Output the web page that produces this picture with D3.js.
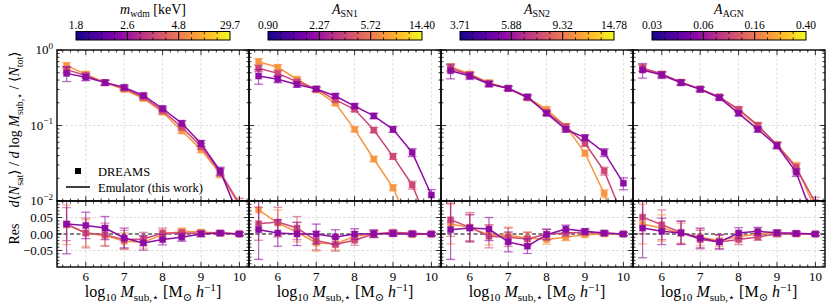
<!DOCTYPE html>
<html>
<head>
<meta charset="utf-8">
<script src="https://cdn.jsdelivr.net/npm/d3@7"></script>
<style>
  body { margin: 0; background: #fff; }
  text { font-family: "Liberation Serif", "DejaVu Serif", serif; fill: #000; }
</style>
</head>
<body>
<div id="chart"></div>
<script>
// stellar mass bins (log10 M_sub)
const massBins = [5.5, 6, 6.5, 7, 7.5, 8, 8.5, 9, 9.5, 10];

// DREAMS mass functions per panel, series order: [purple, pink, orange]
const wdmCurves = [
  [0.49, 0.435, 0.37, 0.32, 0.25, 0.168, 0.107, 0.058, 0.025, 0.006],
  [0.55, 0.46, 0.37, 0.31, 0.237, 0.157, 0.095, 0.053, 0.024, 0.0092],
  [0.62, 0.48, 0.37, 0.30, 0.228, 0.15, 0.085, 0.048, 0.023, 0.0087]
];
const sn1Curves = [
  [0.452, 0.41, 0.35, 0.305, 0.246, 0.181, 0.134, 0.089, 0.044, 0.012],
  [0.572, 0.49, 0.38, 0.305, 0.218, 0.164, 0.087, 0.039, 0.0163, 0.004],
  [0.70, 0.59, 0.41, 0.295, 0.197, 0.089, 0.036, 0.015, 0.004, 0.001]
];
const sn2Curves = [
  [0.532, 0.452, 0.354, 0.311, 0.24, 0.145, 0.089, 0.069, 0.044, 0.0172],
  [0.57, 0.47, 0.36, 0.31, 0.232, 0.15, 0.096, 0.058, 0.025, 0.006],
  [0.60, 0.48, 0.37, 0.31, 0.235, 0.164, 0.098, 0.043, 0.0126, 0.002]
];
const agnCurves = [
  [0.543, 0.466, 0.369, 0.301, 0.233, 0.145, 0.089, 0.054, 0.024, 0.005],
  [0.58, 0.48, 0.375, 0.305, 0.24, 0.164, 0.101, 0.055, 0.0276, 0.0095],
  [0.57, 0.475, 0.37, 0.303, 0.238, 0.16, 0.098, 0.056, 0.029, 0.0077]
];

// residuals (DREAMS vs emulator)
const wdmRes = [
  [0.030, 0.026, 0.018, -0.012, -0.027, -0.017, -0.010, 0.000, 0.003, 0.000],
  [0.030, 0.003, -0.002, -0.017, -0.015, 0.003, 0.003, 0.002, 0.002, 0.000],
  [0.028, 0.003, -0.005, -0.022, -0.025, -0.002, 0.008, 0.006, 0.003, 0.001]
];
const sn1Res = [
  [0.013, 0.003, 0.000, 0.000, -0.009, 0.000, 0.001, 0.001, 0.000, 0.000],
  [0.031, 0.036, 0.018, -0.020, -0.032, -0.019, 0.000, 0.005, 0.002, 0.000],
  [0.073, 0.033, 0.006, -0.027, -0.030, -0.007, 0.000, 0.002, -0.002, 0.000]
];
const sn2Res = [
  [0.013, 0.018, 0.015, -0.024, -0.037, -0.002, 0.015, 0.008, 0.003, 0.000],
  [0.043, 0.020, -0.007, -0.010, -0.015, 0.000, 0.003, 0.005, 0.002, 0.000],
  [0.030, 0.020, -0.003, -0.004, -0.012, -0.017, -0.010, -0.002, 0.000, 0.000]
];
const agnRes = [
  [0.018, 0.008, 0.003, -0.012, -0.024, 0.003, 0.008, 0.004, 0.002, 0.000],
  [0.051, 0.028, 0.005, -0.017, -0.024, -0.017, -0.009, 0.000, 0.000, 0.000],
  [0.030, 0.018, 0.002, -0.010, -0.020, -0.008, 0.000, 0.002, 0.001, 0.000]
];

// relative errors on the mass function, and absolute errors on residuals
const topRelErr = [
  [0.22, 0.1, 0.08, 0.07, 0.07, 0.07, 0.08, 0.09, 0.12, 0.18],
  [0.1, 0.08, 0.07, 0.06, 0.06, 0.07, 0.08, 0.09, 0.12, 0.18],
  [0.1, 0.08, 0.07, 0.06, 0.06, 0.07, 0.08, 0.09, 0.12, 0.18]
];
const resErr = [
  [0.09, 0.04, 0.035, 0.03, 0.022, 0.016, 0.012, 0.008, 0.006, 0.005],
  [0.05, 0.045, 0.035, 0.028, 0.02, 0.015, 0.01, 0.008, 0.006, 0.005],
  [0.06, 0.04, 0.03, 0.025, 0.018, 0.014, 0.01, 0.007, 0.005, 0.004]
];

const cbarLabels = [
  ['1.8', '2.6', '4.8', '29.7'],
  ['0.90', '2.27', '5.72', '14.40'],
  ['3.71', '5.88', '9.32', '14.78'],
  ['0.03', '0.06', '0.16', '0.40']
];
const cbarTitles = [
  [{ t: 'm', i: 1 }, { t: 'wdm', sub: 1 }, { t: ' [keV]' }],
  [{ t: 'A', i: 1 }, { t: 'SN1', sub: 1 }],
  [{ t: 'A', i: 1 }, { t: 'SN2', sub: 1 }],
  [{ t: 'A', i: 1 }, { t: 'AGN', sub: 1 }]
];

const panels = [
  { curves: wdmCurves, res: wdmRes },
  { curves: sn1Curves, res: sn1Res },
  { curves: sn2Curves, res: sn2Res },
  { curves: agnCurves, res: agnRes }
];

const colors = ['#8e0ca4', '#cc4778', '#f89540'];
const drawOrder = [2, 1, 0];

const W = 830, H = 307;
const marginLeft = 57, marginTop = 50;
const panelW = 192, topH = 151, resH = 66;

const svg = d3.select('#chart').append('svg').attr('width', W).attr('height', H);
const defs = svg.append('defs');
defs.append('clipPath').attr('id', 'clipTop').append('rect').attr('width', panelW).attr('height', topH);
defs.append('clipPath').attr('id', 'clipRes').append('rect').attr('width', panelW).attr('height', resH);
const grad = defs.append('linearGradient').attr('id', 'plasma');
d3.range(0, 1.001, 0.05).forEach(t => {
  grad.append('stop').attr('offset', t).attr('stop-color', d3.interpolatePlasma(t));
});

const x = d3.scaleLinear().domain([5.25, 10.25]).range([0, panelW]);
const yTop = d3.scaleLog().domain([0.01, 1]).range([topH, 0]);
const yRes = d3.scaleLinear().domain([-0.1, 0.1]).range([resH, 0]);

const xMajor = [6, 7, 8, 9, 10];
const xMinor = d3.range(5.4, 10.25, 0.2).filter(v => Math.abs(v - Math.round(v)) > 0.05);
const yTopMajor = [0.01, 0.1, 1];
const yTopMinor = [0.01, 0.1].flatMap(d => d3.range(2, 10).map(k => k * d));
const yResMajor = [-0.05, 0, 0.05];
const yResMinor = d3.range(-0.09, 0.095, 0.01).filter(v => Math.abs(v / 0.05 - Math.round(v / 0.05)) > 0.05);

function rich(sel, parts, fs, subShift = 0.28) {
  let shift = 0;
  parts.forEach(p => {
    const target = p.sub ? subShift * fs : p.sup ? -0.4 * fs : 0;
    const ts = sel.append('tspan').text(p.t).attr('dy', target - shift);
    shift = target;
    if (p.sub || p.sup) ts.attr('font-size', fs * 0.7);
    if (p.i) ts.attr('font-style', 'italic');
  });
}

function ticks(g, h, yScale, yMaj, yMin) {
  const t = g.append('g').attr('stroke', '#000').attr('stroke-width', 0.8);
  const addX = (vals, len) => {
    vals.forEach(v => {
      t.append('line').attr('x1', x(v)).attr('x2', x(v)).attr('y1', h).attr('y2', h - len);
      t.append('line').attr('x1', x(v)).attr('x2', x(v)).attr('y1', 0).attr('y2', len);
    });
  };
  const addY = (vals, len) => {
    vals.forEach(v => {
      t.append('line').attr('x1', 0).attr('x2', len).attr('y1', yScale(v)).attr('y2', yScale(v));
      t.append('line').attr('x1', panelW).attr('x2', panelW - len).attr('y1', yScale(v)).attr('y2', yScale(v));
    });
  };
  addX(xMajor, 5); addX(xMinor, 2.5);
  addY(yMaj, 5); addY(yMin, 2.5);
  g.append('rect').attr('width', panelW).attr('height', h)
    .attr('fill', 'none').attr('stroke', '#000').attr('stroke-width', 1.4);
}

function grid(g, h, yScale, yVals) {
  const gg = g.append('g').attr('stroke', '#cfcfcf').attr('stroke-width', 0.7).attr('stroke-dasharray', '2.5,2');
  xMajor.forEach(v => gg.append('line').attr('x1', x(v)).attr('x2', x(v)).attr('y1', 0).attr('y2', h));
  yVals.forEach(v => gg.append('line').attr('x1', 0).attr('x2', panelW).attr('y1', yScale(v)).attr('y2', yScale(v)));
}

function series(g, pts, yScale, color) {
  g.append('path').datum(pts)
    .attr('d', d3.line().x(d => x(d.m)).y(d => yScale(d.v)))
    .attr('fill', 'none').attr('stroke', color).attr('stroke-width', 1.5);
  const eb = g.append('g').attr('stroke', color).attr('stroke-opacity', 0.6).attr('stroke-width', 1.3);
  pts.forEach(d => {
    const y1 = yScale(d.v - d.e), y2 = yScale(d.v + d.e);
    eb.append('line').attr('x1', x(d.m)).attr('x2', x(d.m)).attr('y1', y1).attr('y2', y2);
    eb.append('line').attr('x1', x(d.m) - 4.5).attr('x2', x(d.m) + 4.5).attr('y1', y1).attr('y2', y1);
    eb.append('line').attr('x1', x(d.m) - 4.5).attr('x2', x(d.m) + 4.5).attr('y1', y2).attr('y2', y2);
  });
  g.append('g').selectAll('rect').data(pts).join('rect')
    .attr('x', d => x(d.m) - 3).attr('y', d => yScale(d.v) - 3)
    .attr('width', 6).attr('height', 6).attr('fill', color)
    .attr('stroke', color).attr('stroke-opacity', 0.4).attr('stroke-width', 1.2);
}

panels.forEach((p, i) => {
  const px = marginLeft + i * panelW;
  const g = svg.append('g').attr('transform', `translate(${px},${marginTop})`);
  const gr = svg.append('g').attr('transform', `translate(${px},${marginTop + topH})`);

  grid(g, topH, yTop, [0.1]);
  grid(gr, resH, yRes, [-0.05, 0.05]);

  gr.append('line').attr('x1', 0).attr('x2', panelW).attr('y1', yRes(0)).attr('y2', yRes(0))
    .attr('stroke', '#000').attr('stroke-width', 1.2).attr('stroke-dasharray', '4,2.5');

  const plotTop = g.append('g').attr('clip-path', 'url(#clipTop)');
  const plotRes = gr.append('g').attr('clip-path', 'url(#clipRes)');
  drawOrder.forEach(k => {
    const pts = massBins.map((m, j) => ({ m, v: p.curves[k][j], e: p.curves[k][j] * topRelErr[k][j] }));
    series(plotTop.append('g'), pts, yTop, colors[k]);
    const rpts = massBins.map((m, j) => ({ m, v: p.res[k][j], e: resErr[k][j] }));
    series(plotRes.append('g'), rpts, yRes, colors[k]);
  });

  ticks(g, topH, yTop, yTopMajor, yTopMinor);
  ticks(gr, resH, yRes, yResMajor, yResMinor);

  // x tick labels
  gr.append('g').selectAll('text').data(xMajor).join('text')
    .attr('x', d => x(d)).attr('y', resH + 14).attr('text-anchor', 'middle')
    .attr('font-size', 13).text(d => d);

  // x axis title
  const xl = svg.append('text').attr('x', px + panelW / 2).attr('y', 297)
    .attr('text-anchor', 'middle').attr('font-size', 16);
  rich(xl, [{ t: 'log' }, { t: '10', sub: 1 }, { t: ' ' }, { t: 'M', i: 1 }, { t: 'sub,⋆', sub: 1 },
    { t: ' [M' }, { t: '⊙', sub: 1 }, { t: ' ' }, { t: 'h', i: 1 }, { t: '−1', sup: 1 }, { t: ']' }], 16);

  // colour bar
  const cbW = 154, cbH = 8.5;
  const cb = svg.append('g').attr('transform', `translate(${px + panelW / 2 - cbW / 2},31.5)`);
  cb.append('rect').attr('width', cbW).attr('height', cbH).attr('fill', 'url(#plasma)');
  const cbt = cb.append('g').attr('stroke', '#000').attr('stroke-width', 0.8);
  d3.range(1, 12).forEach(k => {
    const xx = cbW * k / 12;
    if (k % 4 === 0) {
      cbt.append('line').attr('x1', xx).attr('x2', xx).attr('y1', 0).attr('y2', cbH).attr('stroke-width', 1);
    } else {
      cbt.append('line').attr('x1', xx).attr('x2', xx).attr('y1', cbH).attr('y2', cbH - 2.5);
      cbt.append('line').attr('x1', xx).attr('x2', xx).attr('y1', 0).attr('y2', 2.5);
    }
  });
  cb.append('rect').attr('width', cbW).attr('height', cbH).attr('fill', 'none')
    .attr('stroke', '#000').attr('stroke-width', 1);
  cb.selectAll('text.lab').data(cbarLabels[i]).join('text').attr('class', 'lab')
    .attr('x', (d, k) => cbW * k / 3).attr('y', -3).attr('text-anchor', 'middle')
    .attr('font-size', 11.5).text(d => d);
  const ct = svg.append('text').attr('x', px + panelW / 2).attr('y', 14)
    .attr('text-anchor', 'middle').attr('font-size', 14);
  rich(ct, cbarTitles[i], 14, 0.18);
});

// y tick labels on the first panel
const yl = svg.append('g').attr('font-size', 13);
yTopMajor.forEach(v => {
  const t = yl.append('text').attr('x', marginLeft - 4).attr('y', marginTop + yTop(v) + 4).attr('text-anchor', 'end');
  rich(t, [{ t: '10' }, { t: String(Math.round(Math.log10(v))).replace('-', '−'), sup: 1 }], 13);
});
yResMajor.forEach(v => {
  yl.append('text').attr('x', marginLeft - 4).attr('y', marginTop + topH + yRes(v) + 4.5).attr('text-anchor', 'end')
    .text(d3.format('.2f')(v).replace('-', '−'));
});

// y axis titles
const yt = svg.append('text').attr('transform', `translate(19,${marginTop + topH / 2 + 4}) rotate(-90)`)
  .attr('text-anchor', 'middle').attr('font-size', 14);
rich(yt, [{ t: 'd', i: 1 }, { t: '⟨' }, { t: 'N', i: 1 }, { t: 'sat', sub: 1 }, { t: '⟩ / ' },
  { t: 'd', i: 1 }, { t: ' log ' }, { t: 'M', i: 1 }, { t: 'sub,⋆', sub: 1 }, { t: ' / ⟨' },
  { t: 'N', i: 1 }, { t: 'tot', sub: 1 }, { t: '⟩' }], 14);
svg.append('text').attr('transform', `translate(19,${marginTop + topH + resH / 2}) rotate(-90)`)
  .attr('text-anchor', 'middle').attr('font-size', 14).text('Res');

// legend in the first panel
const lg = svg.append('g').attr('transform', `translate(${marginLeft},${marginTop})`);
lg.append('rect').attr('x', 18).attr('y', 118).attr('width', 6).attr('height', 6).attr('fill', '#000');
lg.append('text').attr('x', 41).attr('y', 125.5).attr('font-size', 12.5).text('DREAMS');
lg.append('line').attr('x1', 9).attr('x2', 33).attr('y1', 137).attr('y2', 137)
  .attr('stroke', '#000').attr('stroke-width', 1.5);
lg.append('text').attr('x', 41).attr('y', 141.5).attr('font-size', 12.5).text('Emulator (this work)');
</script>
</body>
</html>
